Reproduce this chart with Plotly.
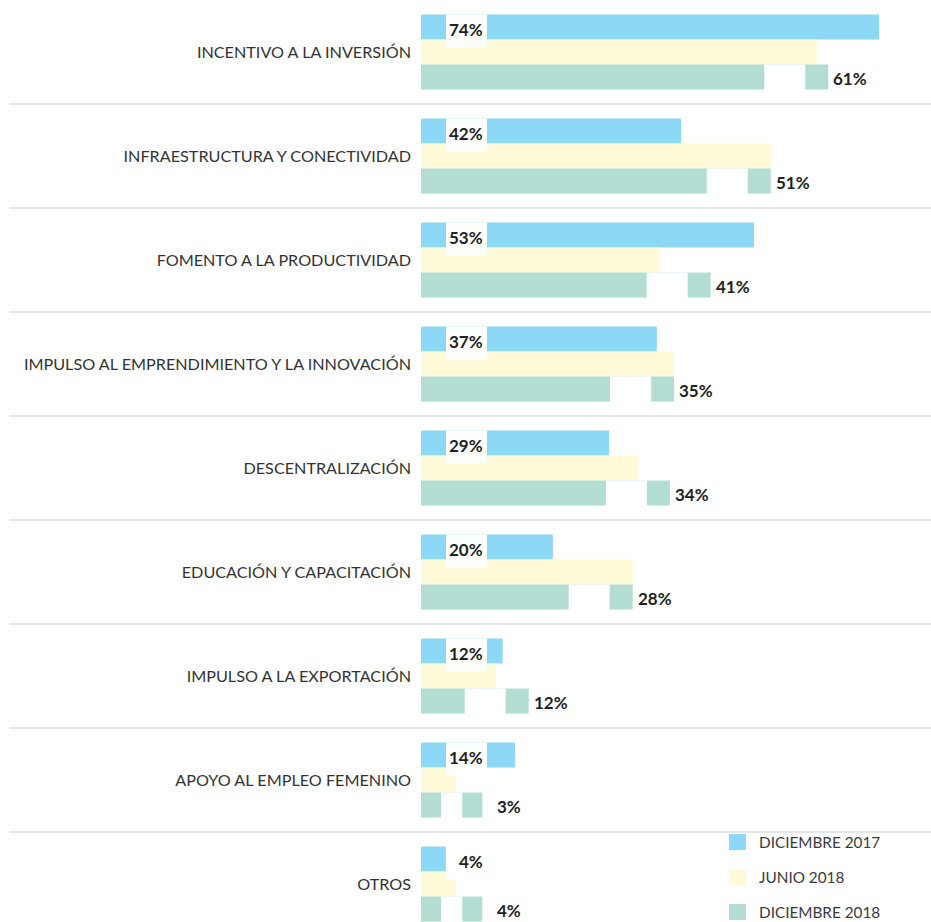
import plotly.graph_objects as go

categories = [
    "INCENTIVO A LA INVERSIÓN",
    "INFRAESTRUCTURA Y CONECTIVIDAD",
    "FOMENTO A LA PRODUCTIVIDAD",
    "IMPULSO AL EMPRENDIMIENTO Y LA INNOVACIÓN",
    "DESCENTRALIZACIÓN",
    "EDUCACIÓN Y CAPACITACIÓN",
    "IMPULSO A LA EXPORTACIÓN",
    "APOYO AL EMPLEO FEMENINO",
    "OTROS",
]
series = ["DICIEMBRE 2017", "JUNIO 2018", "DICIEMBRE 2018"]
colors = ["#8dd7f7", "#fffad8", "#b3ddd3"]

# bar lengths as drawn in the picture (% scale)
dic2017 = [74.0, 42.0, 53.8, 38.1, 30.4, 21.3, 13.2, 15.2, 4.0]
jun2018 = [64.1, 56.7, 38.6, 40.9, 35.1, 34.2, 12.1, 5.7, 5.7]
dic2018 = [65.8, 56.5, 46.8, 40.9, 40.2, 34.2, 17.4, 9.9, 9.9]

# printed labels
dic2017_lbl = ["74%", "42%", "53%", "37%", "29%", "20%", "12%", "14%", "4%"]
dic2018_lbl = ["61%", "51%", "41%", "35%", "34%", "28%", "12%", "3%", "4%"]

W, H = 931, 922
L = 421          # left edge of bars
PX = 6.19        # pixels per percent
ROW = 104        # pixels per category
BAR = 0.7212 / 3 # bar thickness in category units

fig = go.Figure()
for name, vals, col in zip(series, [dic2017, jun2018, dic2018], colors):
    fig.add_trace(go.Bar(
        y=categories, x=vals, orientation="h", name=name,
        marker=dict(color=col, line=dict(width=0)),
        hoverinfo="x+y+name",
    ))

shapes = []
annotations = []

# separators between rows
for i in range(len(categories) - 1):
    shapes.append(dict(
        type="line", xref="paper", yref="y",
        x0=(10 - L) / (W - L), x1=1, y0=i + 0.5, y1=i + 0.5,
        line=dict(color="#e6e6e6", width=2), layer="below",
    ))

for i in range(len(categories)):
    # white tag behind the dic-2017 label
    top = i - 1.5 * BAR
    shapes.append(dict(
        type="rect", xref="x", yref="y",
        x0=25 / PX, x1=66 / PX, y0=top, y1=top + 33 / ROW,
        fillcolor="white", line=dict(width=0), layer="above",
    ))
    annotations.append(dict(
        x=64 / PX, y=i - BAR, xref="x", yref="y", xanchor="right",
        text="<b>%s</b>" % dic2017_lbl[i], showarrow=False, yshift=-2,
        font=dict(family="Lato", size=17, color="#231f20"),
    ))

    # white gap cut out of the dic-2018 bar
    end = dic2018[i] * PX
    gs = max(end - 64, 20)
    ge = min(gs + 41, end - 20)
    shapes.append(dict(
        type="rect", xref="x", yref="y",
        x0=gs / PX, x1=ge / PX, y0=i + 0.5 * BAR, y1=i + 1.5 * BAR + 0.01,
        fillcolor="white", line=dict(width=0), layer="above",
    ))
    annotations.append(dict(
        x=(end + 41) / PX, y=i + BAR, xref="x", yref="y", xanchor="right",
        text="<b>%s</b>" % dic2018_lbl[i], showarrow=False, yshift=-1,
        font=dict(family="Lato", size=17, color="#231f20"),
    ))

# legend, bottom right
for k, (name, col) in enumerate(zip(series, colors)):
    yc = 842 + 35 * k
    shapes.append(dict(
        type="rect", xref="paper", yref="paper",
        x0=(729 - L) / (W - L), x1=(746 - L) / (W - L),
        y0=1 - (yc + 8) / H, y1=1 - (yc - 8) / H,
        fillcolor=col, line=dict(width=0),
    ))
    annotations.append(dict(
        x=(757 - L) / (W - L), y=1 - yc / H, xref="paper", yref="paper",
        xanchor="left", yanchor="middle", text=name, showarrow=False,
        font=dict(family="Lato", size=15.3, color="#3a3a3a"),
    ))

fig.update_layout(
    width=W, height=H,
    margin=dict(l=L, r=0, t=0, b=0),
    paper_bgcolor="white", plot_bgcolor="white",
    barmode="group", bargap=1 - 3 * BAR, bargroupgap=0,
    showlegend=False,
    shapes=shapes, annotations=annotations,
    xaxis=dict(range=[0, (W - L) / PX], visible=False, fixedrange=True),
    yaxis=dict(
        range=[-0.5 + H / ROW, -0.5], showgrid=False, zeroline=False,
        showline=False, ticks="", ticklabelstandoff=9, fixedrange=True,
        tickfont=dict(family="Lato", size=16.2, color="#333333"),
    ),
)

fig.write_html(
    "out.html",
    config={"displayModeBar": False},
    post_script="document.body.style.margin='0';document.body.style.overflow='hidden';",
)
